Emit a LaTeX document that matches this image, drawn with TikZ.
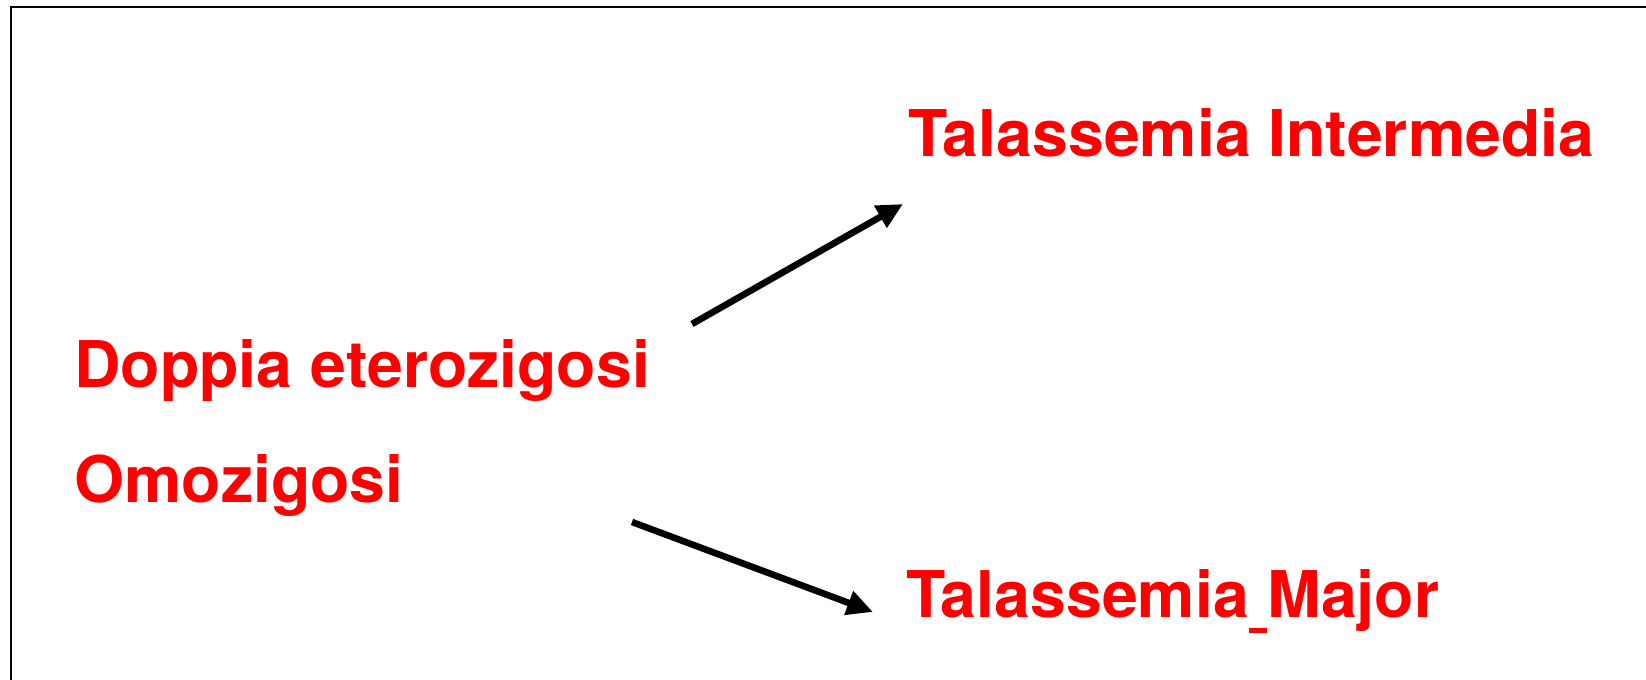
\documentclass[tikz,border=0pt]{standalone}
\usepackage{fontspec}
\setmainfont{TeX Gyre Heros}
\usetikzlibrary{arrows.meta}
\definecolor{lblred}{RGB}{255,0,0}
\newcommand{\lowbar}{\hspace{0.01em}\rule[-0.25em]{0.27em}{0.075em}\hspace{0.01em}}
\tikzset{
  lbl/.style={anchor=base west, inner sep=0pt, text=lblred,
    font=\fontsize{32.2pt}{38pt}\selectfont\bfseries},
  arr/.style={line width=3.3pt, -{Triangle[length=13pt,width=12pt]}},
  frame/.style={line width=1.1pt}
}
\begin{document}
\begin{tikzpicture}[x=0.5pt, y=-0.5pt]
\useasboundingbox (0,0) rectangle (1646,680);
\draw[frame] (11,700) -- (11,7) -- (1660,7);
\node[lbl] (dop) at (74,387) {Doppia eterozigosi};
\node[lbl] (omo) at (74,502) {Omozigosi};
\node[lbl] (tin) at (908,156) {Talassemia Intermedia};
\node[lbl] (tma) at (906,617) {Talassemia\lowbar Major};
\coordinate (a1s) at (692,324);
\coordinate (a1e) at (903,204);
\coordinate (a2s) at (632,522);
\coordinate (a2e) at (873,612);
\draw[arr] (a1s) -- (a1e);
\draw[arr] (a2s) -- (a2e);
\end{tikzpicture}
\end{document}
